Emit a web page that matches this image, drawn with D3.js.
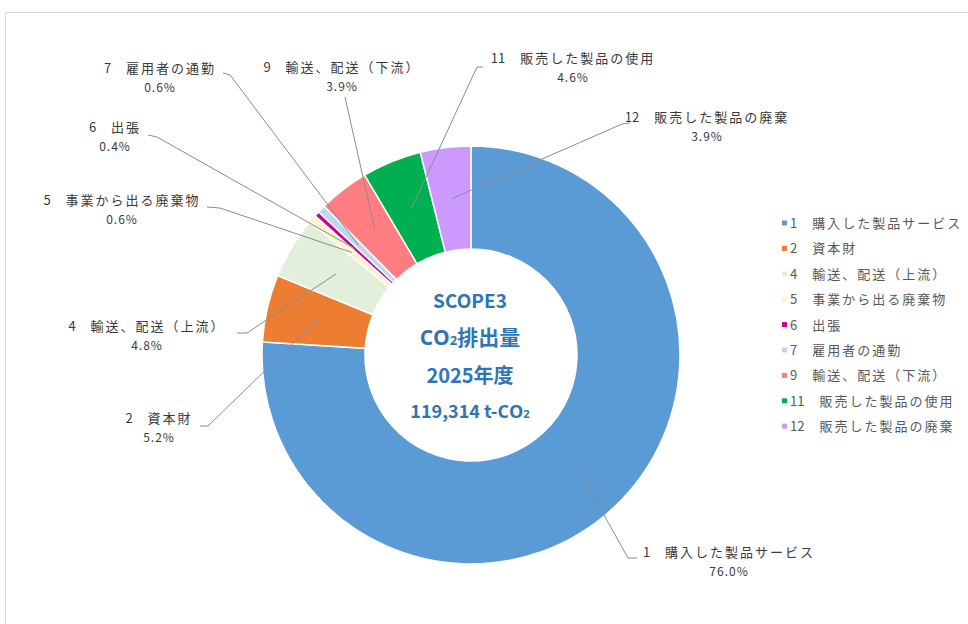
<!DOCTYPE html>
<html>
<head>
<meta charset="utf-8">
<script src="https://cdn.jsdelivr.net/npm/d3@7"></script>
<style>
  body { margin: 0; background: #fff; }
  svg { display: block; }
</style>
</head>
<body>
<svg id="chart" width="968" height="624"></svg>
<script>
// data
var categories = ["1　購入した製品サービス", "2　資本財", "4　輸送、配送（上流）", "5　事業から出る廃棄物",
                  "6　出張", "7　雇用者の通勤", "9　輸送、配送（下流）", "11　販売した製品の使用", "12　販売した製品の廃棄"];
var shares = [76.0, 5.2, 4.8, 0.6, 0.4, 0.6, 3.9, 4.6, 3.9];
var colors = ["#5b9bd5", "#ed7d31", "#e2efda", "#fff2cc", "#cc0099", "#bdd7ee", "#ff7c80", "#00b050", "#cc99ff"];
var centerLines = ["SCOPE3", "CO2排出量", "2025年度", "119,314 t-CO2"];

// label text centre / first baseline per slice (layout only)
var labelPos = [[729, 557], [159, 423], [147, 331], [122, 205], [115, 132], [160, 73], [342, 72], [573, 63], [707, 122]];
// leader line: knee and end next to the label
var lineKnee = [[628, 558], [208, 426], [247, 333], [220, 208], [157, 137], [230, 75], [345, 97], [477, 67], [622, 124]];
var lineEnd  = [[637, 558], [200, 426], [237, 333], [207, 207], [148, 135], [223, 73], [345, 97], [483, 67], [630, 123]];

var svg = d3.select("#chart"),
    cx = 471, cy = 355,
    outerR = 209, innerR = 106,
    font = "'Noto Sans CJK JP', sans-serif";

// frame
svg.append("path")
    .attr("d", "M5.5,624 V12.5 H968")
    .attr("fill", "none")
    .attr("stroke", "#d9d9d9");

var data = categories.map((c, i) => ({name: c, value: shares[i], color: colors[i], i: i}));

var pie = d3.pie().sort(null).value(d => d.value);
var arc = d3.arc().innerRadius(innerR).outerRadius(outerR);
var mid = d3.arc().innerRadius((innerR + outerR) / 2).outerRadius((innerR + outerR) / 2);

var g = svg.append("g").attr("transform", `translate(${cx},${cy})`);
var arcs = pie(data);

g.selectAll(".slice")
    .data(arcs)
    .enter().append("path")
    .attr("class", "slice")
    .attr("d", arc)
    .attr("fill", d => d.data.color)
    .attr("stroke", "#fff")
    .attr("stroke-width", 1.5);

// leader lines
svg.selectAll(".leader")
    .data(arcs)
    .enter().append("polyline")
    .attr("class", "leader")
    .attr("points", d => {
        var c = mid.centroid(d), i = d.data.i;
        return [[cx + c[0], cy + c[1]], lineKnee[i], lineEnd[i]].map(p => p.join(",")).join(" ");
    })
    .attr("fill", "none")
    .attr("stroke", "#8c8c8c")
    .attr("stroke-width", 1);

// number part without spacing, rest spaced out like the original font
function nameParts(sel) {
    sel.append("tspan").text(d => d.data.name.split("　")[0]);
    sel.append("tspan").attr("letter-spacing", "2px").text(d => "　" + d.data.name.split("　")[1]);
}

// labels
var lab = svg.selectAll(".lab")
    .data(arcs)
    .enter().append("text")
    .attr("class", "lab")
    .attr("text-anchor", "middle")
    .attr("font-family", font)
    .attr("font-size", "13px")
    .attr("fill", "#3a3a3a");
lab.append("tspan")
    .attr("x", d => labelPos[d.data.i][0])
    .attr("y", d => labelPos[d.data.i][1])
    .call(nameParts);
lab.append("tspan")
    .attr("x", d => labelPos[d.data.i][0])
    .attr("y", d => labelPos[d.data.i][1] + 19)
    .attr("font-size", "12px")
    .attr("letter-spacing", "1px")
    .text(d => d.data.value.toFixed(1) + "%");

// centre text
var ct = svg.append("g")
    .attr("font-family", "'Open Sans', 'Noto Sans CJK JP', sans-serif")
    .attr("font-weight", "bold")
    .attr("fill", "#2e75b6")
    .attr("text-anchor", "middle");
var cSizes = [19, 21, 20, 18], cY = [308, 345, 383, 418];
centerLines.forEach((t, i) => {
    var txt = ct.append("text").attr("x", cx - 1).attr("y", cY[i]).attr("font-size", cSizes[i] + "px");
    var parts = t.split("CO2");
    parts.forEach((p, j) => {
        if (j > 0) {
            txt.append("tspan").text("CO");
            txt.append("tspan").attr("font-size", (cSizes[i] * 0.62) + "px").text("2");
        }
        if (p) txt.append("tspan").attr("font-family", "'Noto Sans CJK JP', sans-serif").text(p);
    });
});

// legend
var leg = svg.append("g").attr("transform", "translate(782,223)");
var row = leg.selectAll(".row")
    .data(arcs)
    .enter().append("g")
    .attr("class", "row")
    .attr("transform", (d, i) => `translate(0,${i * 25.4})`);
row.append("rect")
    .attr("x", 0).attr("y", -2.5)
    .attr("width", 5).attr("height", 5)
    .attr("fill", d => d.data.color);
row.append("text")
    .attr("x", 8)
    .attr("y", 5)
    .attr("font-family", font)
    .attr("font-size", "13px")
    .attr("fill", "#595959")
    .call(nameParts);
</script>
</body>
</html>
